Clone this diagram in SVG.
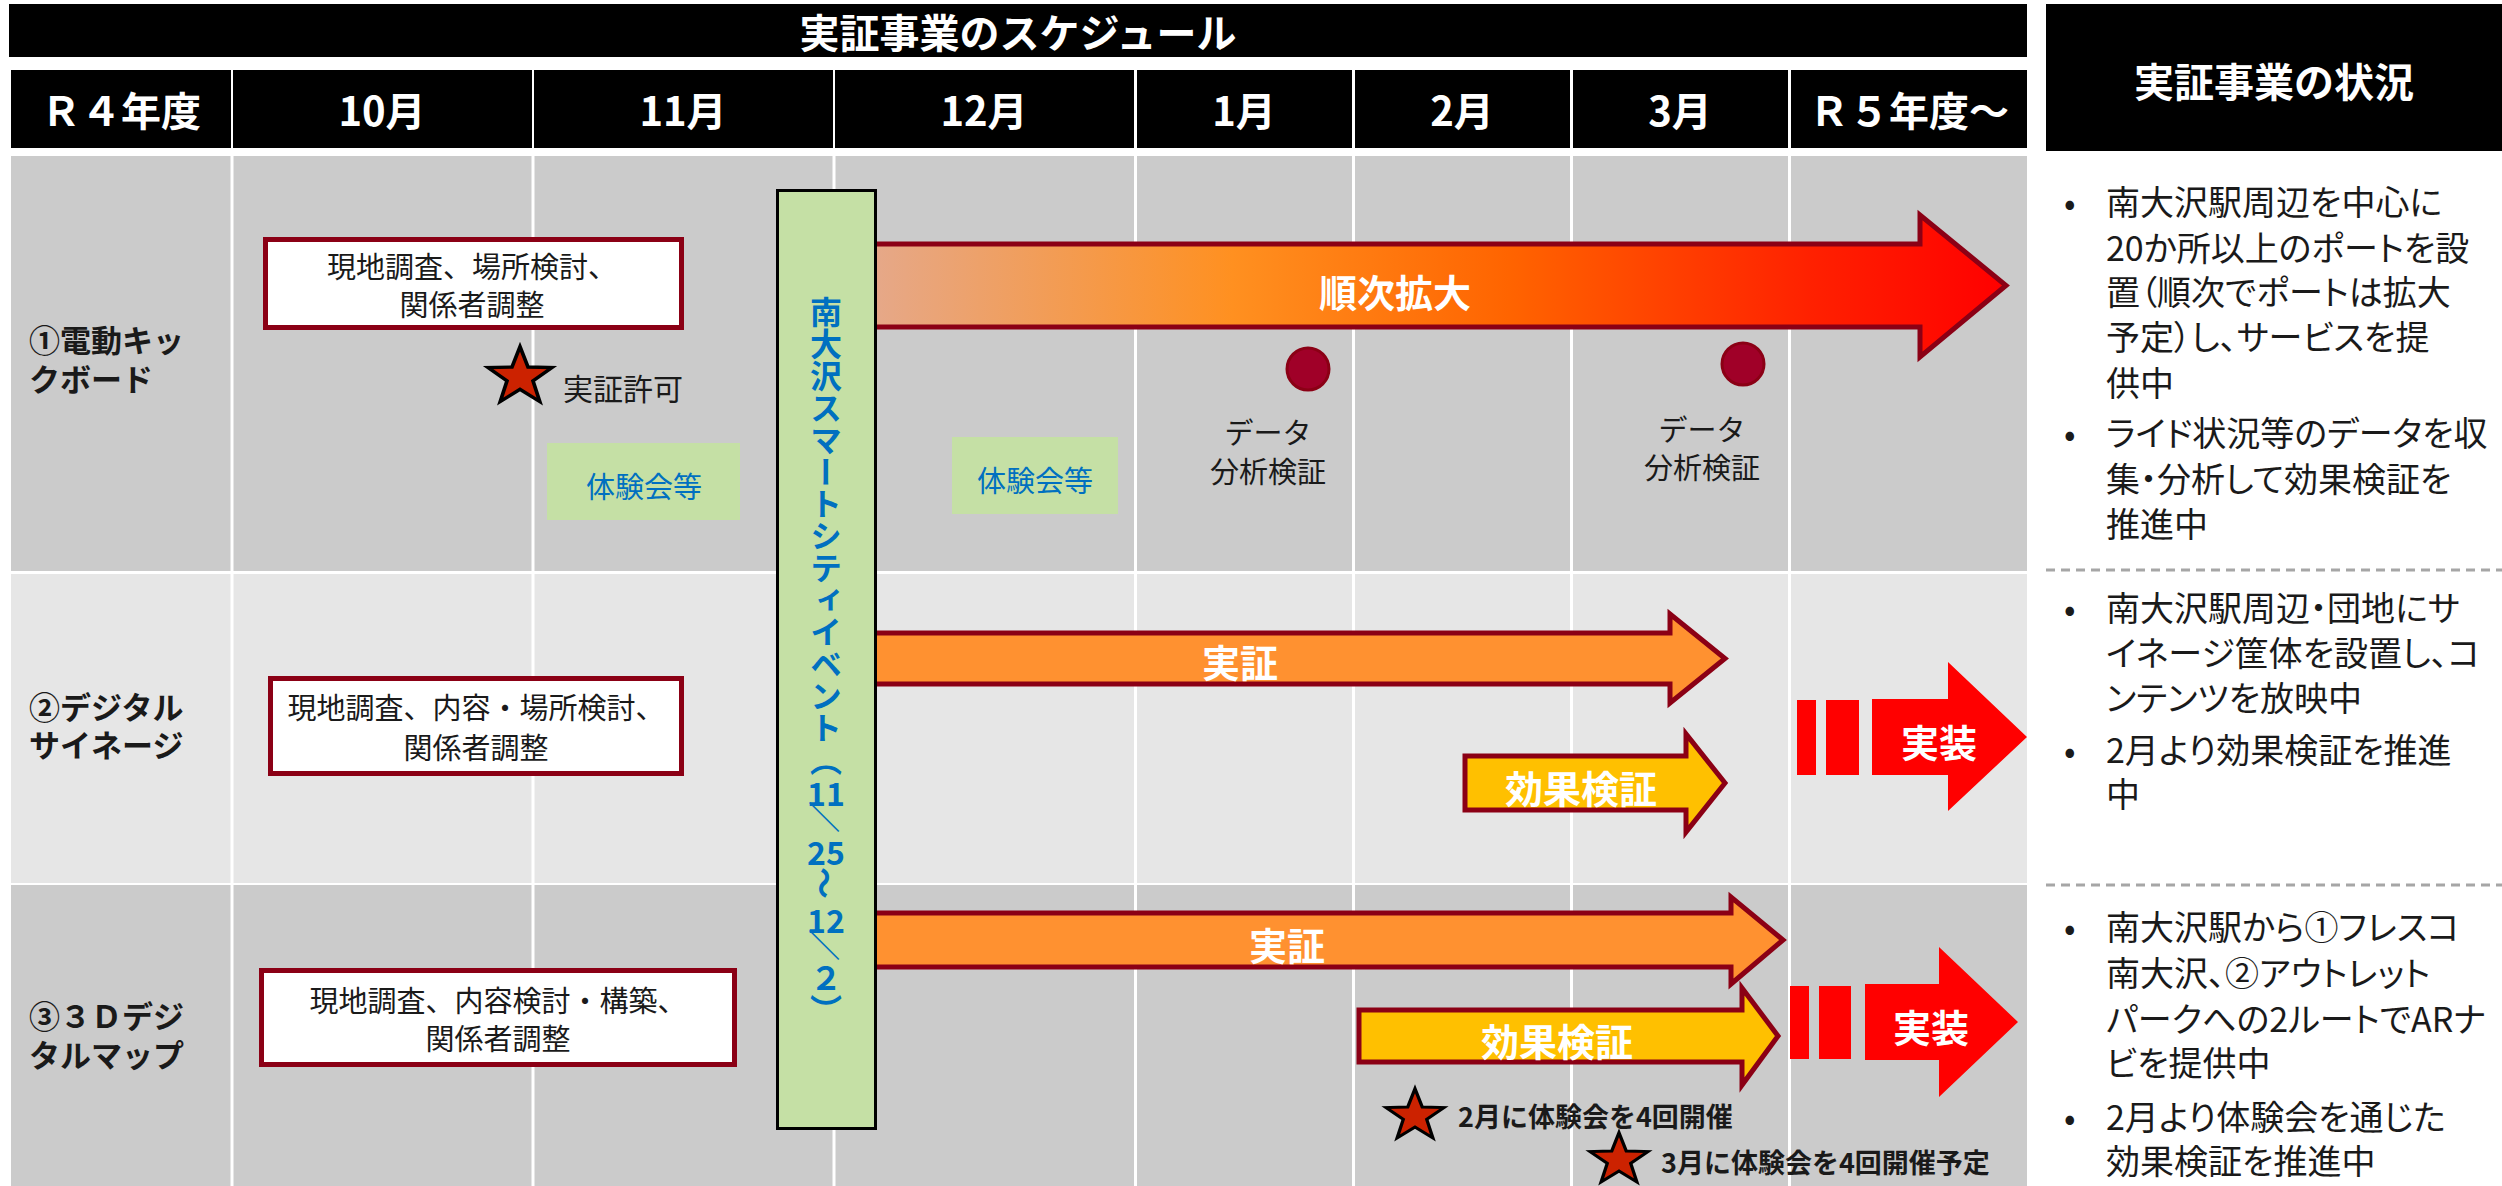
<svg xmlns="http://www.w3.org/2000/svg" width="2502" height="1186" viewBox="0 0 2502 1186">
<style>
text{font-family:"Noto Sans CJK JP","Noto Sans",sans-serif;dominant-baseline:central}
.hd{fill:#fff;font-weight:700;font-size:40px;text-anchor:middle}
.lbl{fill:#1a1a1a;font-weight:700;font-size:31px}
.box{fill:#fff;stroke:#8B0015;stroke-width:5}
.bt{fill:#1a1a1a;font-size:29px;text-anchor:middle}
.gb{fill:#C5E0A5}
.gt{fill:#0070C0;font-size:29px;text-anchor:middle}
.ar{stroke:#8B0015;stroke-width:5;stroke-linejoin:miter}
.at{fill:#fff;font-weight:700;font-size:38px;text-anchor:middle}
.vt{fill:#0070C0;font-weight:700;font-size:32px}
.vr{writing-mode:vertical-rl}
.pt{fill:#1a1a1a;font-size:34px;font-feature-settings:"palt" 1}
.sep{stroke:#A6A6A6;stroke-width:3;stroke-dasharray:9 6}
.star{fill:#CC2200;stroke:#000;stroke-width:3.5;stroke-linejoin:miter}
.dot{fill:#A00028;stroke:#8B0015;stroke-width:3}
.cl{stroke:#fff;stroke-width:3}
</style>
<defs>
<linearGradient id="grad" x1="877" y1="0" x2="2006" y2="0" gradientUnits="userSpaceOnUse">
<stop offset="0" stop-color="#E6A888"/>
<stop offset="0.315" stop-color="#FF9020"/>
<stop offset="0.56" stop-color="#FF6400"/>
<stop offset="0.83" stop-color="#FF2000"/>
<stop offset="1" stop-color="#FF0000"/>
</linearGradient>
<path id="starShape" class="star" d="M0,-32 L7.64,-10.52 L30.43,-9.89 L12.36,4.02 L18.81,25.89 L0,13 L-18.81,25.89 L-12.36,4.02 L-30.43,-9.89 L-7.64,-10.52 Z"/>
</defs>
<rect width="2502" height="1186" fill="#fff"/>

<g id="header">
<rect x="9" y="4" width="2018" height="53" fill="#000"/>
<text class="hd" x="1018" y="31" font-size="40">実証事業のスケジュール</text>
<rect x="11" y="70" width="220" height="78" fill="#000"/>
<rect x="233" y="70" width="299" height="78" fill="#000"/>
<rect x="534" y="70" width="299" height="78" fill="#000"/>
<rect x="835" y="70" width="299" height="78" fill="#000"/>
<rect x="1137" y="70" width="215" height="78" fill="#000"/>
<rect x="1355" y="70" width="215" height="78" fill="#000"/>
<rect x="1573" y="70" width="215" height="78" fill="#000"/>
<rect x="1791" y="70" width="236" height="78" fill="#000"/>
<text class="hd" x="121" y="109">Ｒ４年度</text>
<text class="hd" x="382" y="109">10月</text>
<text class="hd" x="683" y="109">11月</text>
<text class="hd" x="984" y="109">12月</text>
<text class="hd" x="1244" y="109">1月</text>
<text class="hd" x="1462" y="109">2月</text>
<text class="hd" x="1680" y="109">3月</text>
<text class="hd" x="1909" y="109" font-size="38">Ｒ５年度～</text>
<rect x="2046" y="4" width="456" height="147" fill="#000"/>
<text class="hd" x="2274" y="80">実証事業の状況</text>
</g>

<g id="grid">
<rect x="11" y="156" width="2016" height="415" fill="#CBCBCB"/>
<rect x="11" y="574" width="2016" height="309" fill="#E6E6E6"/>
<rect x="11" y="885" width="2016" height="301" fill="#CBCBCB"/>
<line class="cl" x1="232" y1="156" x2="232" y2="1186"/>
<line class="cl" x1="533" y1="156" x2="533" y2="1186"/>
<line class="cl" x1="834" y1="156" x2="834" y2="1186"/>
<line class="cl" x1="1135.5" y1="156" x2="1135.5" y2="1186"/>
<line class="cl" x1="1353.5" y1="156" x2="1353.5" y2="1186"/>
<line class="cl" x1="1571.5" y1="156" x2="1571.5" y2="1186"/>
<line class="cl" x1="1789.5" y1="156" x2="1789.5" y2="1186"/>
</g>

<g id="row-labels">
<text class="lbl" x="29" y="338">①電動キッ</text>
<text class="lbl" x="29" y="377">クボード</text>
<text class="lbl" x="29" y="705">②デジタル</text>
<text class="lbl" x="29" y="743">サイネージ</text>
<text class="lbl" x="29" y="1014">③３Ｄデジ</text>
<text class="lbl" x="29" y="1053">タルマップ</text>
</g>

<g id="box1">
<rect class="box" x="265.5" y="239.5" width="416" height="88"/>
<text class="bt" x="472" y="265">現地調査、場所検討、</text>
<text class="bt" x="472" y="303">関係者調整</text>
</g>
<g id="box2">
<rect class="box" x="270.5" y="678.5" width="411" height="95"/>
<text class="bt" x="476" y="706">現地調査、内容・場所検討、</text>
<text class="bt" x="476" y="746">関係者調整</text>
</g>
<g id="box3">
<rect class="box" x="261.5" y="970.5" width="473" height="94"/>
<text class="bt" x="498" y="999">現地調査、内容検討・構築、</text>
<text class="bt" x="498" y="1037">関係者調整</text>
</g>

<g id="permit">
<use href="#starShape" transform="translate(520,377) scale(1.05,0.95)"/>
<text x="563" y="387" font-size="30" fill="#1a1a1a">実証許可</text>
</g>

<g id="taiken1">
<rect class="gb" x="547" y="443" width="193" height="77"/>
<text class="gt" x="644" y="485">体験会等</text>
</g>
<g id="taiken2">
<rect class="gb" x="952" y="437" width="166" height="77"/>
<text class="gt" x="1035" y="479">体験会等</text>
</g>

<g id="connectors">
<path class="ar" fill="url(#grad)" d="M860,244 H1920 V215 L2006,285.5 L1920,357 V327 H860 Z"/>
<path class="ar" fill="#FF9130" d="M860,633 H1670 V614 L1725,658.5 L1670,703 V684 H860 Z"/>
<path class="ar" fill="#FFC000" d="M1465,756 H1686 V734 L1725,783 L1686,832 V810 H1465 Z"/>
<path class="ar" fill="#FF9130" d="M860,913 H1731 V897 L1783,940 L1731,984 V967 H860 Z"/>
<path class="ar" fill="#FFC000" d="M1359,1010 H1742 V988 L1778,1036 L1742,1085 V1062 H1359 Z"/>
</g>

<g id="arrow-labels">
<text class="at" x="1395" y="290">順次拡大</text>
<text class="at" x="1240" y="660">実証</text>
<text class="at" x="1581" y="786">効果検証</text>
<text class="at" x="1287" y="943">実証</text>
<text class="at" x="1557" y="1039">効果検証</text>
</g>

<g id="data1">
<circle class="dot" cx="1308" cy="369" r="21"/>
<text class="bt" x="1268" y="431">データ</text>
<text class="bt" x="1268" y="470">分析検証</text>
</g>
<g id="data2">
<circle class="dot" cx="1743" cy="364" r="21"/>
<text class="bt" x="1702" y="428">データ</text>
<text class="bt" x="1702" y="466">分析検証</text>
</g>

<g id="jisso2">
<rect x="1797" y="700" width="19" height="75" fill="#FF0000"/>
<rect x="1826" y="700" width="33" height="75" fill="#FF0000"/>
<path fill="#FF0000" d="M1872,699 H1948 V662 L2027,737 L1948,811 V775 H1872 Z"/>
<text class="at" x="1939" y="740">実装</text>
</g>
<g id="jisso3">
<rect x="1790" y="986" width="19" height="73" fill="#FF0000"/>
<rect x="1819" y="986" width="32" height="73" fill="#FF0000"/>
<path fill="#FF0000" d="M1865,984 H1939 V947 L2018,1022 L1939,1097 V1060 H1865 Z"/>
<text class="at" x="1931" y="1025">実装</text>
</g>

<g id="event">
<rect x="777.5" y="190.5" width="98" height="938" fill="#C5E0A5" stroke="#000" stroke-width="3"/>
<text class="vt vr" x="826" y="296">南大沢スマートシティイベント（</text>
<text class="vt" x="826" y="792" text-anchor="middle">11</text>
<text class="vt" x="826" y="817" text-anchor="middle" transform="rotate(90 826 817)">／</text>
<text class="vt" x="826" y="851" text-anchor="middle">25</text>
<text class="vt" x="826" y="883" text-anchor="middle" transform="rotate(90 826 883)">～</text>
<text class="vt" x="826" y="919" text-anchor="middle">12</text>
<text class="vt" x="826" y="945" text-anchor="middle" transform="rotate(90 826 945)">／</text>
<text class="vt vr" x="826" y="962">２）</text>
</g>

<g id="events3">
<use href="#starShape" transform="translate(1415,1116) scale(0.95,0.85)"/>
<text x="1458" y="1115" font-size="27" font-weight="700" fill="#1a1a1a">2月に体験会を4回開催</text>
<use href="#starShape" transform="translate(1619,1160) scale(0.95,0.85)"/>
<text x="1661" y="1161" font-size="27" font-weight="700" fill="#1a1a1a">3月に体験会を4回開催予定</text>
</g>

<g id="status">
<line class="sep" x1="2046" y1="570" x2="2502" y2="570"/>
<line class="sep" x1="2046" y1="885" x2="2502" y2="885"/>
<g class="pt">
<text x="2064" y="200">•</text>
<text x="2106" y="200">南大沢駅周辺を中心に</text>
<text x="2106" y="246">20か所以上のポートを設</text>
<text x="2106" y="290">置（順次でポートは拡大</text>
<text x="2106" y="335">予定）し、サービスを提</text>
<text x="2106" y="381">供中</text>
<text x="2064" y="431">•</text>
<text x="2106" y="431">ライド状況等のデータを収</text>
<text x="2106" y="477">集・分析して効果検証を</text>
<text x="2106" y="522">推進中</text>
<text x="2064" y="606">•</text>
<text x="2106" y="606">南大沢駅周辺・団地にサ</text>
<text x="2106" y="651">イネージ筐体を設置し、コ</text>
<text x="2106" y="696">ンテンツを放映中</text>
<text x="2064" y="748">•</text>
<text x="2106" y="748">2月より効果検証を推進</text>
<text x="2106" y="792">中</text>
<text x="2064" y="925">•</text>
<text x="2106" y="925">南大沢駅から①フレスコ</text>
<text x="2106" y="971">南大沢、②アウトレット</text>
<text x="2106" y="1017">パークへの2ルートでARナ</text>
<text x="2106" y="1061">ビを提供中</text>
<text x="2064" y="1115">•</text>
<text x="2106" y="1115">2月より体験会を通じた</text>
<text x="2106" y="1159">効果検証を推進中</text>
</g>
</g>
</svg>
